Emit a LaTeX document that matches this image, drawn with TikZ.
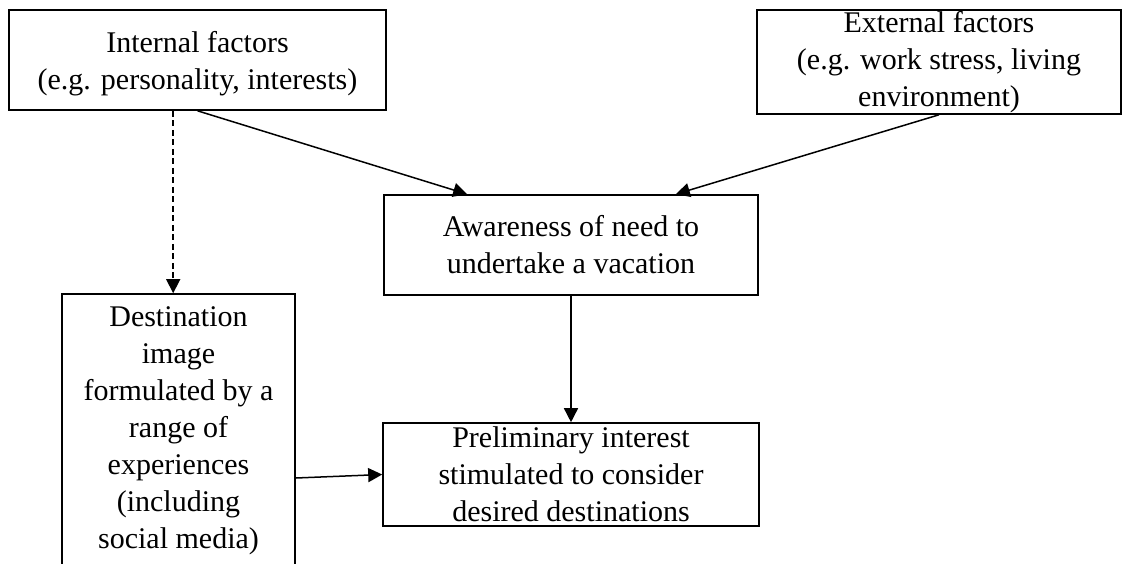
\documentclass[tikz,border=0pt]{standalone}
\usepackage{fontspec}
\setmainfont{Liberation Serif}
\usetikzlibrary{arrows.meta,calc}
\begin{document}
\begin{tikzpicture}[x=1pt,y=-1pt,
  box/.style={draw, line width=1.6pt, rectangle, inner sep=0pt, align=center,
              font=\fontsize{30}{37}\selectfont},
  link/.style={line width=1.5pt, -{Triangle[length=14pt,width=14pt]}},
  dashlink/.style={link, dash pattern=on 6pt off 3.5pt},
]
\useasboundingbox (0,0) rectangle (1123,563);
\clip (0,0) rectangle (1123,563);

% boxes
\node[box, minimum width=377pt, minimum height=100pt] (internal) at (197.5,60)
  {\rule{0pt}{28pt}Internal factors\\(e.g. personality, interests)};
\node[box, minimum width=364pt, minimum height=104pt] (external) at (939,62)
  {External factors\\(e.g. work stress, living\\environment)};
\node[box, minimum width=374pt, minimum height=100pt] (awareness) at (571,245)
  {Awareness of need to\\undertake a vacation};
\node[box, minimum width=233pt, minimum height=274pt] (dest) at (178.5,431)
  {Destination\\image\\formulated by a\\range of\\experiences\\(including\\social media)};
\node[box, minimum width=376pt, minimum height=103pt] (prelim) at (571,474.5)
  {Preliminary interest\\stimulated to consider\\desired destinations};

% connector end points
\coordinate (a1) at ($(awareness.north west)+(84,0)$);
\coordinate (a2) at ($(awareness.north east)+(-83,0)$);
\coordinate (d1) at ($(internal.south west)+(165,0)$);
\coordinate (d2) at (d1 |- dest.north);
\coordinate (h0) at (0,478);
\coordinate (h1) at (dest.east |- h0);

% connectors
\draw[link] (internal.south) -- (a1);
\draw[link] (external.south) -- (a2);
\draw[dashlink] (d1) -- (d2);
\draw[link] (awareness.south) -- (prelim.north);
\draw[link] (h1) -- (prelim.west);
\end{tikzpicture}
\end{document}
